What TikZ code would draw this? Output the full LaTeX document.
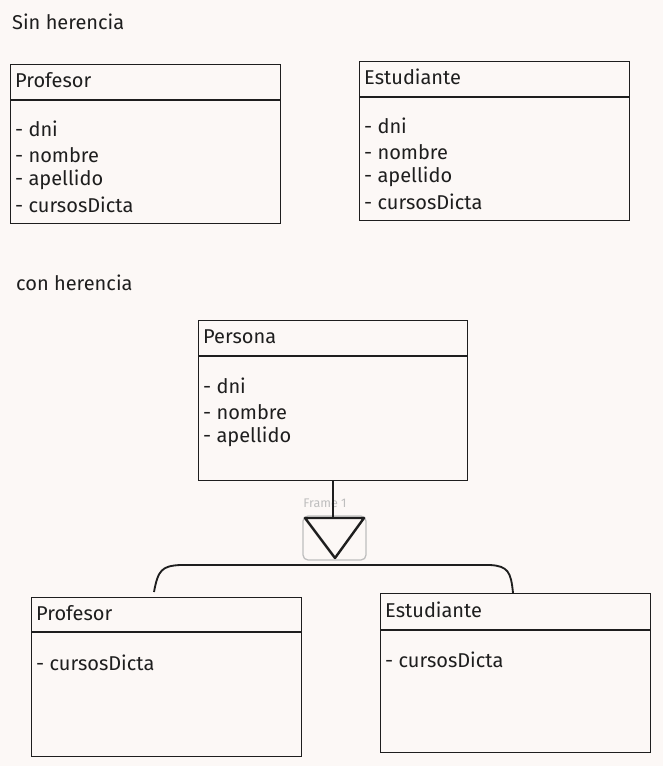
\documentclass[tikz,border=0pt]{standalone}
\usepackage{fontspec}
\setmainfont{Fira Sans}
\usetikzlibrary{positioning}
\definecolor{paper}{RGB}{252,248,246}
\definecolor{ink}{RGB}{30,30,30}
\definecolor{framegray}{RGB}{190,190,190}
\tikzset{
	clsbox/.style={draw=ink, line width=0.45mm, anchor=north west, minimum width=270pt, minimum height=159pt, inner sep=0pt},
	lbl/.style={anchor=west, inner sep=0pt, text=ink, font=\fontsize{20}{22}\selectfont},
	plain/.style={draw=ink, line width=0.45mm}
}
\begin{document}
\begin{tikzpicture}[x=1pt, y=-1pt]
		
		\fill[paper] (0,0) rectangle (663,766);
		\useasboundingbox (0,0) rectangle (663,766);
		
		% sin herencia
		\node[lbl] (sin) at (12,22) {Sin herencia};
		
		\node[clsbox] (prof) at (10,64) {};
		\draw[plain] ([yshift=-36pt]prof.north west) -- ([yshift=-36pt]prof.north east);
		\node[lbl] (proft) at (15,80) {Profesor};
		\node[lbl] (profa) at (15,129) {- dni};
		\node[lbl] (profb) at (15,155) {- nombre};
		\node[lbl] (profc) at (15,180) {- apellido};
		\node[lbl] (profd) at (15,205) {- cursosDicta};
		
		\node[clsbox] (est) at (359,61) {};
		\draw[plain] ([yshift=-36pt]est.north west) -- ([yshift=-36pt]est.north east);
		\node[lbl] (estt) at (364,77) {Estudiante};
		\node[lbl] (esta) at (364,126) {- dni};
		\node[lbl] (estb) at (364,152) {- nombre};
		\node[lbl] (estc) at (364,177) {- apellido};
		\node[lbl] (estd) at (364,202) {- cursosDicta};
		
		% con herencia
		\node[lbl] (con) at (16,283) {con herencia};
		
		\node[clsbox, minimum width=269pt, minimum height=160pt] (pers) at (198,320) {};
		\draw[plain] ([yshift=-36pt]pers.north west) -- ([yshift=-36pt]pers.north east);
		\node[lbl] (perst) at (203,337) {Persona};
		\node[lbl] (persa) at (203,386) {- dni};
		\node[lbl] (persb) at (203,412) {- nombre};
		\node[lbl] (persc) at (203,437) {- apellido};
		
		% frame con el triangulo
		\node[text=framegray, inner sep=0pt, font=\fontsize{12.5}{14}\selectfont] (framet) at (325,503) {Frame 1};
		\draw[framegray, line width=0.45mm, rounded corners=5pt] (303,516) rectangle (366,560);
		\coordinate (tl) at (305,518);
		\coordinate (tr) at (364,518);
		\coordinate (tb) at (335,558);
		\draw[plain, line width=0.85mm, line join=round] (tl) -- (tr) -- (tb) -- cycle;
		\coordinate (ttop) at (333,518);
		\draw[plain] (333,480) -- (ttop);
		
		\node[clsbox] (prof2) at (31,597) {};
		\draw[plain] ([yshift=-35pt]prof2.north west) -- ([yshift=-35pt]prof2.north east);
		\node[lbl] (prof2t) at (36,613) {Profesor};
		\node[lbl] (prof2a) at (36,663) {- cursosDicta};
		
		\node[clsbox] (est2) at (380,593) {};
		\draw[plain] ([yshift=-37pt]est2.north west) -- ([yshift=-37pt]est2.north east);
		\node[lbl] (est2t) at (385,610) {Estudiante};
		\node[lbl] (est2a) at (385,660) {- cursosDicta};
		
		% llave de herencia
		\coordinate (lleft) at (154,592);
		\coordinate (lright) at (513,593);
		\draw[plain, line width=0.65mm] (lleft) .. controls (158,570) and (162,566) .. (180,565) -- (490,565) .. controls (508,566) and (511,572) .. (lright);
		
	\end{tikzpicture}
\end{document}
